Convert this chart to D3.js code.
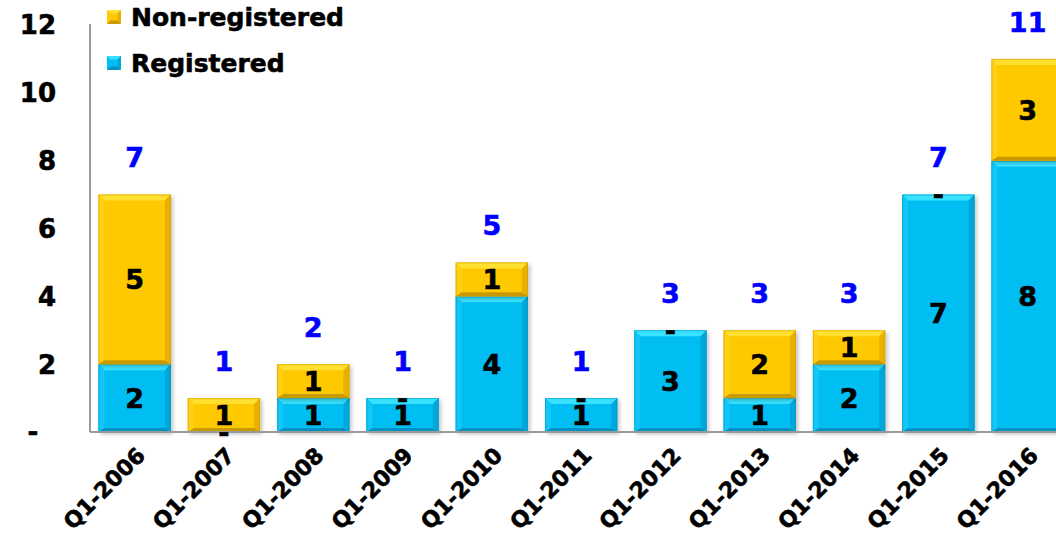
<!DOCTYPE html>
<html><head><meta charset="utf-8">
<script src="https://cdn.jsdelivr.net/npm/d3@7"></script>
<style>html,body{margin:0;padding:0;background:#fff;overflow:hidden}svg{display:block;font-family:"DejaVu Sans",Verdana,sans-serif;font-weight:bold}</style>
</head><body><svg id="c" width="1056" height="540"></svg>
<script>
const categories = ["Q1-2006","Q1-2007","Q1-2008","Q1-2009","Q1-2010","Q1-2011","Q1-2012","Q1-2013","Q1-2014","Q1-2015","Q1-2016"];
const registered = [2,0,1,1,4,1,3,1,2,7,8];
const nonRegistered = [5,1,1,0,1,0,0,2,1,0,3];
const yTicks = [0,2,4,6,8,10,12];
const seriesNames = ["Non-registered","Registered"];

const svg = d3.select("#c");
const W = 1056, H = 540;
const x0 = 90, baseY = 432;
const x = d3.scaleBand().domain(categories).range([x0, x0 + 11*89.3]).paddingInner(0.19).paddingOuter(0.095);
const y = d3.scaleLinear().domain([0,12]).range([baseY, 25]);

const defs = svg.append("defs");
const f = defs.append("filter").attr("id","sh").attr("x","-20%").attr("y","-20%").attr("width","150%").attr("height","150%");
f.append("feDropShadow").attr("dx",2).attr("dy",2).attr("stdDeviation",2).attr("flood-color","#000").attr("flood-opacity",0.25);

const pal = {
  reg: {main:"#02BEF2", top:"#38E2FF", left:"#12C6F6", right:"#00A8DA", bot:"#0092C2"},
  non: {main:"#FFC905", top:"#FFDF30", left:"#FFD015", right:"#E8B000", bot:"#C89A00"}
};

svg.append("line").attr("x1",x0).attr("x2",x0).attr("y1",24).attr("y2",baseY).attr("stroke","#9a9a9a").attr("stroke-width",2);

function seg(g, x1, w, yTop, yBot, p){
  const h = yBot - yTop;
  if (h <= 0) return;
  const b = Math.min(6, h/3);
  const bb = Math.min(4, h/4);
  const gg = g.append("g");
  gg.append("rect").attr("x",x1).attr("y",yTop).attr("width",w).attr("height",h).attr("fill",p.main).attr("filter","url(#sh)");
  const x2 = x1 + w, y1 = yTop, y2 = yBot;
  gg.append("polygon").attr("points",`${x1},${y1} ${x2},${y1} ${x2-b},${y1+b} ${x1+b},${y1+b}`).attr("fill",p.top);
  gg.append("polygon").attr("points",`${x1},${y1} ${x1+b},${y1+b} ${x1+b},${y2-bb} ${x1},${y2}`).attr("fill",p.left);
  gg.append("polygon").attr("points",`${x2},${y1} ${x2},${y2} ${x2-b},${y2-bb} ${x2-b},${y1+b}`).attr("fill",p.right);
  gg.append("polygon").attr("points",`${x1},${y2} ${x1+b},${y2-bb} ${x2-b},${y2-bb} ${x2},${y2}`).attr("fill",p.bot);
  gg.append("rect").attr("x",x1+0.5).attr("y",yTop+0.5).attr("width",w-1).attr("height",h-1).attr("fill","none").attr("stroke",p.bot).attr("stroke-opacity",0.5).attr("stroke-width",1);
}

const bars = svg.append("g");
categories.forEach((c,i)=>{
  const xb = x(c), w = x.bandwidth();
  const r = registered[i], n = nonRegistered[i];
  seg(bars, xb, w, y(r), y(0), pal.reg);
  seg(bars, xb, w, y(r+n), y(r), pal.non);
});

svg.append("line").attr("x1",x0).attr("x2",W).attr("y1",baseY).attr("y2",baseY).attr("stroke","#9a9a9a").attr("stroke-width",2);

const heavy = sel => sel.attr("stroke","currentColor").attr("stroke-width",0.6);

const lab = svg.append("g").attr("font-size",27).attr("text-anchor","middle").attr("fill","#000").style("color","#000");
categories.forEach((c,i)=>{
  const cx = x(c) + x.bandwidth()/2;
  const r = registered[i], n = nonRegistered[i];
  lab.append("text").attr("x",cx).attr("y",y(r/2)).attr("dy","0.36em").text(r===0?"-":r).call(heavy);
  lab.append("text").attr("x",cx).attr("y",y(r+n/2)).attr("dy","0.36em").text(n===0?"-":n).call(heavy);
  svg.append("text").attr("x",cx).attr("y",y(r+n)-37).attr("dy","0.36em").attr("text-anchor","middle").attr("font-size",27).attr("fill","#0000FF").style("color","#0000FF").text(r+n).call(heavy);
});

const yl = svg.append("g").attr("font-size",26).attr("fill","#000").style("color","#000");
yTicks.forEach(t=>{
  if (t===0) yl.append("text").attr("x",33).attr("y",y(t)).attr("dy","0.36em").attr("text-anchor","middle").text("-").call(heavy);
  else yl.append("text").attr("x",56).attr("y",y(t)).attr("dy","0.36em").attr("text-anchor","end").text(t).call(heavy);
});

const xl = svg.append("g").attr("font-size",22).attr("fill","#000").style("color","#000");
categories.forEach(c=>{
  const cx = x(c) + x.bandwidth()/2;
  xl.append("text").attr("transform",`translate(${cx+1},${446}) rotate(-45)`).attr("text-anchor","end").attr("dy","0.7em").text(c).call(heavy);
});

const leg = svg.append("g");
const legItems = [{n:seriesNames[0],p:pal.non,y:17},{n:seriesNames[1],p:pal.reg,y:63}];
legItems.forEach(d=>{
  const s=14, lx=107, ly=d.y-7, b=3.5;
  leg.append("rect").attr("x",lx).attr("y",ly).attr("width",s).attr("height",s).attr("fill",d.p.main);
  leg.append("polygon").attr("points",`${lx},${ly} ${lx+s},${ly} ${lx+s-b},${ly+b} ${lx+b},${ly+b}`).attr("fill",d.p.top);
  leg.append("polygon").attr("points",`${lx},${ly+s} ${lx+b},${ly+s-b} ${lx+s-b},${ly+s-b} ${lx+s},${ly+s}`).attr("fill",d.p.bot);
  leg.append("polygon").attr("points",`${lx+s},${ly} ${lx+s},${ly+s} ${lx+s-b},${ly+s-b} ${lx+s-b},${ly+b}`).attr("fill",d.p.right);
  leg.append("text").attr("x",131).attr("y",d.y).attr("dy","0.36em").attr("font-size",25).attr("fill","#000").style("color","#000").text(d.n).call(heavy);
});
</script></body></html>
